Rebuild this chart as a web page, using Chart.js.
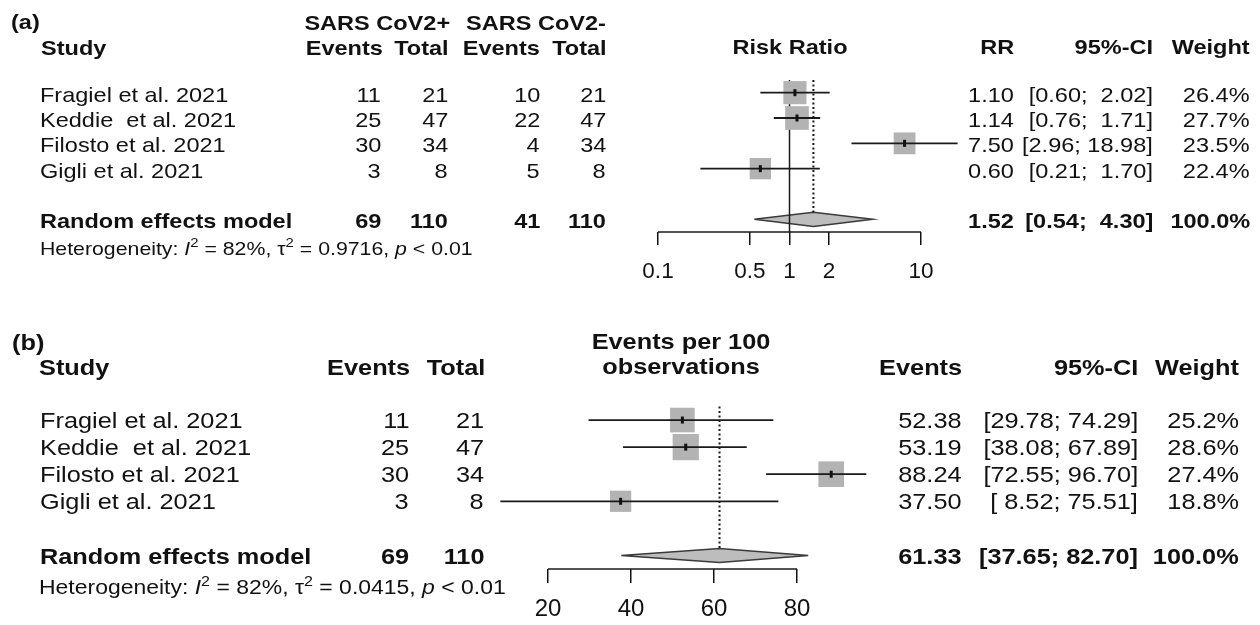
<!DOCTYPE html>
<html>
<head>
<meta charset="utf-8">
<title>Forest plots</title>
<script src="https://cdn.jsdelivr.net/npm/chart.js"></script>
<style>
  body { margin: 0; background: #fff; }
  #page { position: relative; width: 1260px; height: 625px; overflow: hidden;
          font-family: "Liberation Sans", Arial, sans-serif; color: #111; }
  canvas { position: absolute; left: 0; top: 0; }
  .t { position: absolute; white-space: pre; line-height: 1; }
  .sup { font-size: 0.7em; position: relative; top: -0.55em; }
</style>
</head>
<body>
<div id="page">
  <canvas id="chartA" width="1260" height="625"></canvas>
  <canvas id="chartB" width="1260" height="625"></canvas>
</div>
<script>
// study data
var studies = ["Fragiel et al. 2021", "Keddie  et al. 2021", "Filosto et al. 2021", "Gigli et al. 2021"];
var posEvents = [11, 25, 30, 3];
var posTotal = [21, 47, 34, 8];
var negEvents = [10, 22, 4, 5];
var negTotal = [21, 47, 34, 8];

// (a) risk ratios
var rr = [1.10, 1.14, 7.50, 0.60];
var rrLower = [0.60, 0.76, 2.96, 0.21];
var rrUpper = [2.02, 1.71, 18.98, 1.70];
var rrWeight = [26.4, 27.7, 23.5, 22.4];
var rrPooled = [1.52, 0.54, 4.30];
var rrTicks = [0.1, 0.5, 1, 2, 10];
var rrHet = ["82%", "0.9716", "< 0.01"];

// (b) events per 100 observations
var rate = [52.38, 53.19, 88.24, 37.50];
var rateLower = [29.78, 38.08, 72.55, 8.52];
var rateUpper = [74.29, 67.89, 96.70, 75.51];
var rateWeight = [25.2, 28.6, 27.4, 18.8];
var ratePooled = [61.33, 37.65, 82.70];
var rateTicks = [20, 40, 60, 80];
var rateHet = ["82%", "0.0415", "< 0.01"];

var STRETCH = 1.12;
var page = document.getElementById("page");

function addText(x, y, s, size, align, bold, html) {
  var el = document.createElement("span");
  el.className = "t";
  if (html) {
    el.innerHTML = s;
  } else {
    el.textContent = s;
  }
  el.style.fontSize = size + "px";
  el.style.top = (y - size / 2) + "px";
  if (bold) el.style.fontWeight = "bold";
  if (align === "right") {
    el.style.right = (1260 - x) + "px";
    el.style.transformOrigin = "right center";
    el.style.transform = "scaleX(" + STRETCH + ")";
  } else if (align === "center") {
    el.style.left = x + "px";
    el.style.transformOrigin = "center center";
    el.style.transform = "translateX(-50%) scaleX(" + STRETCH + ")";
  } else {
    el.style.left = x + "px";
    el.style.transformOrigin = "left center";
    el.style.transform = "scaleX(" + STRETCH + ")";
  }
  page.appendChild(el);
}

function sum(a) {
  return a.reduce(function (s, v) { return s + v; }, 0);
}

function maxLen(a) {
  return Math.max.apply(null, a.map(function (v) { return v.toFixed(2).length; }));
}

function ciText(lo, hi, wl, wu) {
  return "[" + lo.toFixed(2).padStart(wl) + "; " + hi.toFixed(2).padStart(wu) + "]";
}

function hetText(h) {
  return "Heterogeneity: <i>I</i><span class=\"sup\">2</span> = " + h[0] +
    ", \u03c4<span class=\"sup\">2</span> = " + h[1] + ", <i>p</i> &lt; " + h[2].replace("< ", "");
}

function segment(points, order, dash, width) {
  return {
    type: "line", data: points, borderColor: "#1a1a1a", borderWidth: width,
    borderDash: dash, pointRadius: 0, fill: false, tension: 0, clip: false, order: order
  };
}

function forestSets(est, lower, upper, weight, pooled, k, halfH, nullValue, axisTicks) {
  var sets = [];
  var n = est.length;
  var pr = n + 2;
  var pts = [];
  for (var i = 0; i < n; i++) {
    sets.push(segment([{ x: lower[i], y: i + 1 }, { x: upper[i], y: i + 1 }], 4, [], 1.8));
    pts.push({ x: est[i], y: i + 1 });
  }
  sets.push({
    type: "line", data: pts, showLine: false, pointStyle: "rect",
    pointRadius: weight.map(function (w) { return k * Math.sqrt(w) / Math.SQRT2; }),
    pointBackgroundColor: "#b3b3b3", pointBorderWidth: 0, clip: false, order: 5
  });
  sets.push({
    type: "line", data: pts, showLine: false, pointStyle: "line", pointRotation: 90,
    pointRadius: 3.5, pointBorderColor: "#111", pointBorderWidth: 3, clip: false, order: 3
  });
  sets.push({
    type: "line",
    data: [
      { x: pooled[1], y: pr }, { x: pooled[0], y: pr - halfH }, { x: pooled[2], y: pr },
      { x: pooled[0], y: pr + halfH }, { x: pooled[1], y: pr }
    ],
    borderColor: "#3a3a3a", borderWidth: 1.5, backgroundColor: "#bdbdbd",
    fill: "shape", pointRadius: 0, tension: 0, clip: false, order: 7
  });
  sets.push(segment([{ x: pooled[0], y: 0.5 }, { x: pooled[0], y: pr - halfH }], 6, [2, 2.5], 2));
  if (nullValue !== null) {
    sets.push(segment([{ x: nullValue, y: 0.5 }, { x: nullValue, y: pr + 0.5 }], 6, [], 1.5));
  }
  // axis line only across the labelled ticks
  sets.push(segment([{ x: axisTicks[0], y: pr + 0.5 },
    { x: axisTicks[axisTicks.length - 1], y: pr + 0.5 }], 6, [], 1.5));
  return sets;
}

function xAxis(type, min, max, tickValues, fontSize, tickLen, pad) {
  return {
    type: type, position: "bottom", min: min, max: max,
    afterBuildTicks: function (scale) {
      scale.ticks = tickValues.map(function (v) { return { value: v }; });
    },
    afterFit: function (scale) { scale.height = 50; },
    ticks: {
      autoSkip: false, maxRotation: 0, padding: pad, color: "#111",
      font: { family: "Liberation Sans", size: fontSize },
      callback: function (v) { return String(v); }
    },
    grid: { drawOnChartArea: false, drawTicks: true, tickLength: tickLen, color: "#111", lineWidth: 1.5 },
    border: { display: false }
  };
}

function makeChart(id, xScale, pad, datasets) {
  return new Chart(document.getElementById(id), {
    type: "line",
    data: { datasets: datasets },
    options: {
      responsive: false,
      animation: false,
      events: [],
      layout: { padding: pad },
      plugins: { legend: { display: false }, tooltip: { enabled: false } },
      scales: {
        x: xScale,
        y: { type: "linear", reverse: true, min: 0.5, max: 6.5, display: false }
      }
    }
  });
}

// ---------- panel (a) ----------
// log axis 0.01..100 so that 0.1 sits at x=658 and 10 at x=921
var chartA = makeChart("chartA",
  xAxis("logarithmic", 0.01, 100, rrTicks, 22.5, 13, 13),
  { left: 526.5, right: 207.5, top: 80, bottom: 343 },
  forestSets(rr, rrLower, rrUpper, rrWeight, rrPooled, 4.5, 0.28, 1, rrTicks));

var aTop = 80, aRow = 25.33, aFs = 21;
function aY(k) { return aTop + (k - 0.5) * aRow + 1.5; }

addText(11, 21, "(a)", aFs, "left", true);
addText(450, 22, "SARS CoV2+", aFs, "right", true);
addText(606, 22, "SARS CoV2-", aFs, "right", true);
addText(41, 47, "Study", aFs, "left", true);
addText(383, 47, "Events", aFs, "right", true);
addText(449, 47, "Total", aFs, "right", true);
addText(540, 47, "Events", aFs, "right", true);
addText(607, 47, "Total", aFs, "right", true);
addText(790, 46, "Risk Ratio", aFs, "center", true);
addText(1014, 46, "RR", aFs, "right", true);
addText(1153, 46, "95%-CI", aFs, "right", true);
addText(1250, 46, "Weight", aFs, "right", true);

var aWl = maxLen(rrLower.concat([rrPooled[1]]));
var aWu = maxLen(rrUpper.concat([rrPooled[2]]));
for (var i = 0; i < studies.length; i++) {
  var y = aY(i + 1);
  addText(40, y, studies[i], aFs, "left", false);
  addText(381, y, String(posEvents[i]), aFs, "right", false);
  addText(448, y, String(posTotal[i]), aFs, "right", false);
  addText(540, y, String(negEvents[i]), aFs, "right", false);
  addText(606, y, String(negTotal[i]), aFs, "right", false);
  addText(1014, y, rr[i].toFixed(2), aFs, "right", false);
  addText(1153, y, ciText(rrLower[i], rrUpper[i], aWl, aWu), aFs, "right", false);
  addText(1250, y, rrWeight[i].toFixed(1) + "%", aFs, "right", false);
}
var ay = aY(6);
addText(40, ay, "Random effects model", aFs, "left", true);
addText(381, ay, String(sum(posEvents)), aFs, "right", true);
addText(448, ay, String(sum(posTotal)), aFs, "right", true);
addText(540, ay, String(sum(negEvents)), aFs, "right", true);
addText(606, ay, String(sum(negTotal)), aFs, "right", true);
addText(1014, ay, rrPooled[0].toFixed(2), aFs, "right", true);
addText(1153, ay, ciText(rrPooled[1], rrPooled[2], aWl, aWu), aFs, "right", true);
addText(1250, ay, "100.0%", aFs, "right", true);
addText(40, 248, hetText(rrHet), 19, "left", false, true);

// ---------- panel (b) ----------
// linear axis 0..100 so that 20 sits at x=548 and 80 at x=797
var chartB = makeChart("chartB",
  xAxis("linear", 0, 100, rateTicks, 24, 14, 12),
  { left: 465, right: 380, top: 406.5, bottom: 6 },
  forestSets(rate, rateLower, rateUpper, rateWeight, ratePooled, 4.9, 0.26, null, rateTicks));

var bTop = 406.5, bRow = 27.08, bFs = 22.6;
function bY(k) { return bTop + (k - 0.5) * bRow + 1.5; }

addText(12, 343, "(b)", bFs, "left", true);
addText(681, 342, "Events per 100", bFs, "center", true);
addText(681, 367, "observations", bFs, "center", true);
addText(39, 368, "Study", bFs, "left", true);
addText(410, 368, "Events", bFs, "right", true);
addText(485, 368, "Total", bFs, "right", true);
addText(962, 368, "Events", bFs, "right", true);
addText(1138, 368, "95%-CI", bFs, "right", true);
addText(1239, 368, "Weight", bFs, "right", true);

var bWl = maxLen(rateLower.concat([ratePooled[1]]));
var bWu = maxLen(rateUpper.concat([ratePooled[2]]));
for (var j = 0; j < studies.length; j++) {
  var yb = bY(j + 1);
  addText(40, yb, studies[j], bFs, "left", false);
  addText(409, yb, String(posEvents[j]), bFs, "right", false);
  addText(484, yb, String(posTotal[j]), bFs, "right", false);
  addText(962, yb, rate[j].toFixed(2), bFs, "right", false);
  addText(1138, yb, ciText(rateLower[j], rateUpper[j], bWl, bWu), bFs, "right", false);
  addText(1239, yb, rateWeight[j].toFixed(1) + "%", bFs, "right", false);
}
var by = bY(6);
addText(40, by, "Random effects model", bFs, "left", true);
addText(409, by, String(sum(posEvents)), bFs, "right", true);
addText(484, by, String(sum(posTotal)), bFs, "right", true);
addText(962, by, ratePooled[0].toFixed(2), bFs, "right", true);
addText(1138, by, ciText(ratePooled[1], ratePooled[2], bWl, bWu), bFs, "right", true);
addText(1239, by, "100.0%", bFs, "right", true);
addText(39, 587, hetText(rateHet), 20.5, "left", false, true);
</script>
</body>
</html>
